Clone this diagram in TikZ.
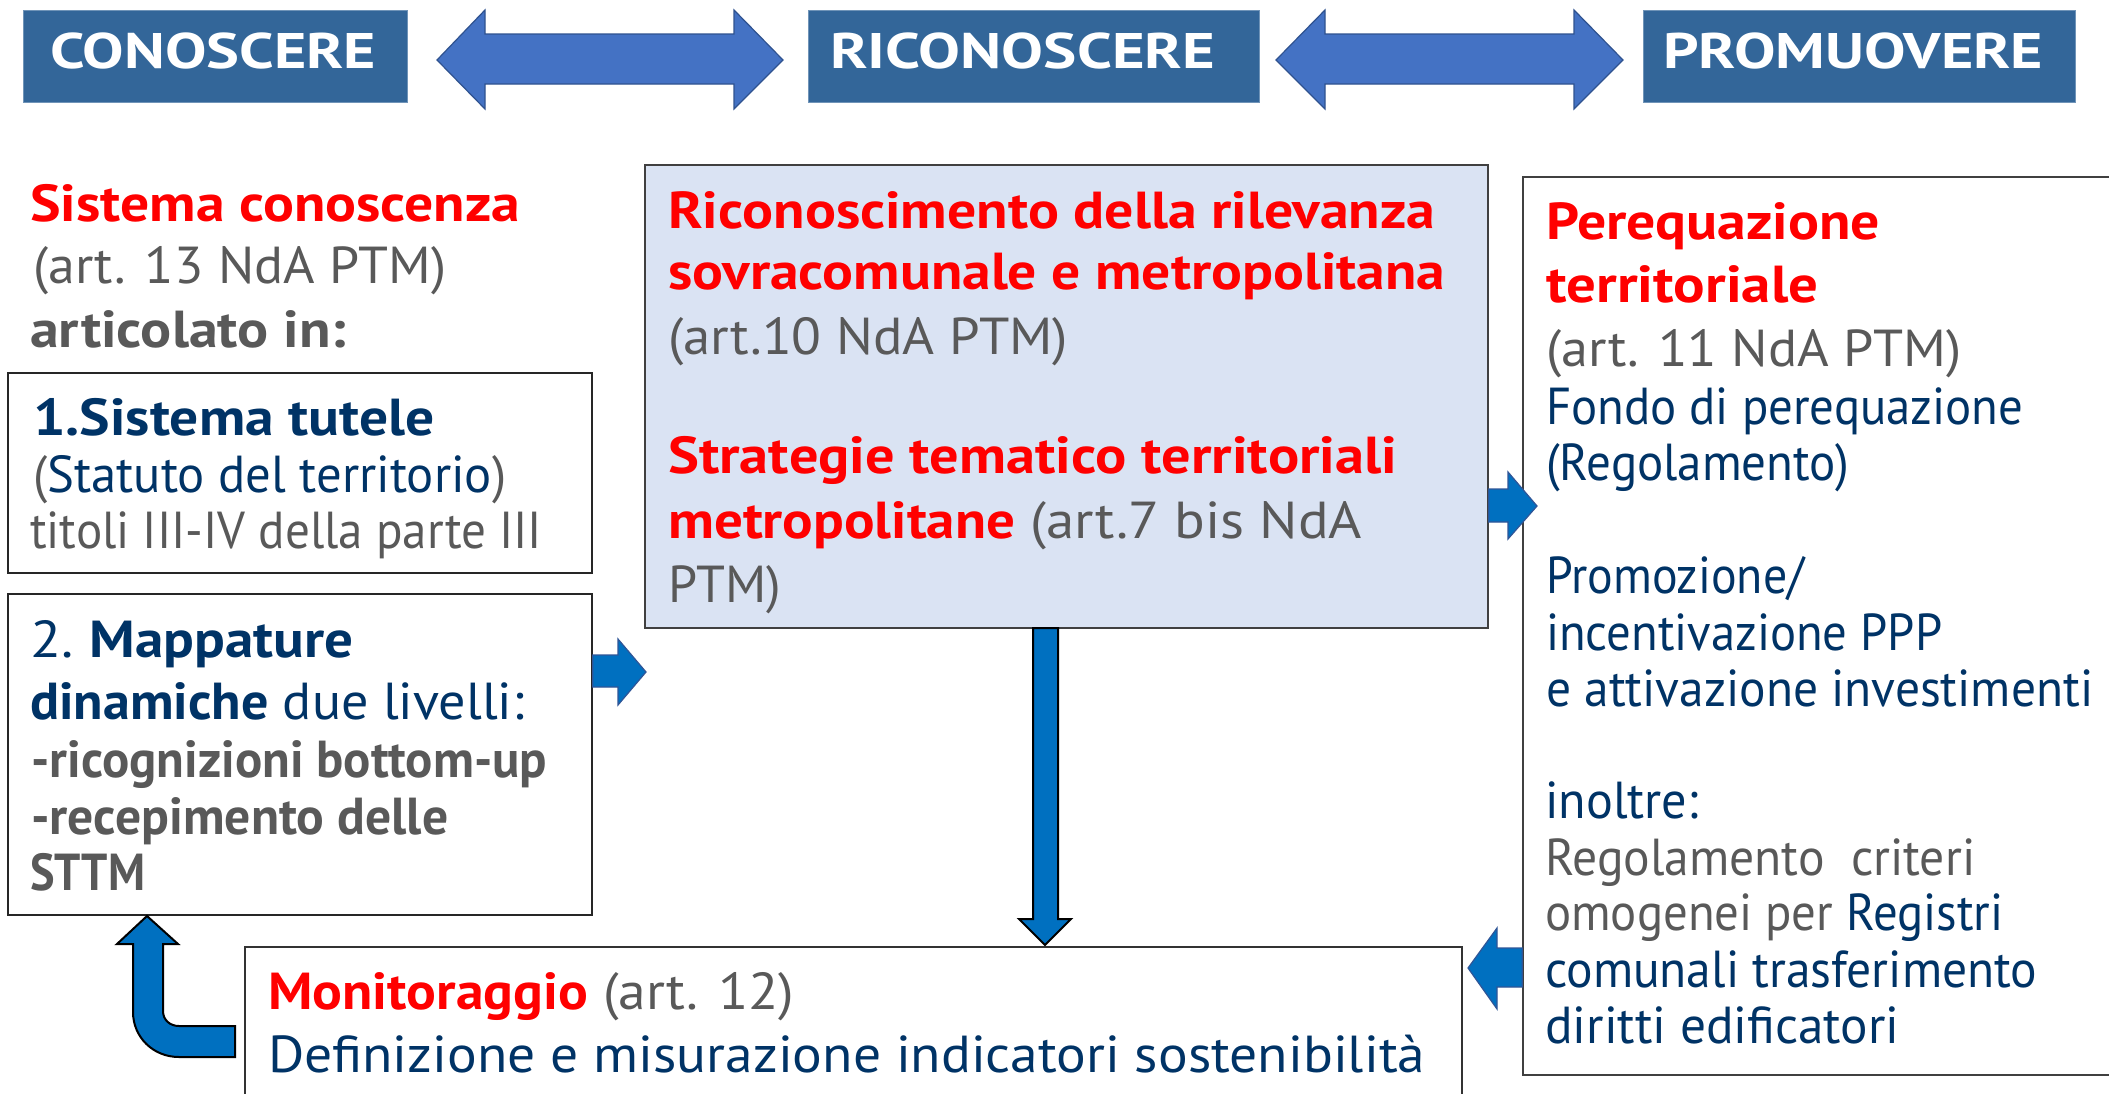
\documentclass[tikz,border=0pt]{standalone}
\usepackage{fontspec}
\setmainfont{PT Sans}
\usetikzlibrary{fit}
\definecolor{hdr}{HTML}{336699}
\definecolor{dbl}{HTML}{4472C4}
\definecolor{dblo}{HTML}{2F528F}
\definecolor{arr}{HTML}{0070C0}
\definecolor{arro}{HTML}{2F5597}
\definecolor{rd}{HTML}{FF0000}
\definecolor{nv}{HTML}{003366}
\definecolor{gr}{HTML}{595959}
\definecolor{lb}{HTML}{DAE3F3}
\newcommand{\fitw}[2]{\resizebox{#1pt}{\height}{#2}}
\tikzset{
  txt/.style={anchor=base west, inner sep=0pt, font=\fontsize{52}{62}\selectfont},
  htxt/.style={anchor=base west, inner sep=0pt, text=white, font=\fontsize{50}{60}\selectfont\bfseries},
  box/.style={draw=black!85, line width=1.5pt, inner sep=0pt},
  hdrbox/.style={fill=hdr, draw=hdr!70!white, line width=1pt, inner sep=0pt},
  dblarrow/.style={fill=dbl, draw=dblo, line width=1.2pt, line join=miter},
  blkarrow/.style={fill=arr, draw=arro, line width=1.2pt, line join=miter},
  blkarrowk/.style={fill=arr, draw=black, line width=2pt, line join=miter},
}
\begin{document}
\begin{tikzpicture}[x=1pt,y=-1pt]
\useasboundingbox[fill=white] (0,0) rectangle (2109,1093);

% header boxes
\node[hdrbox, fit={(23,10)(407,102)}] (h1) {};
\node[hdrbox, fit={(808,10)(1259,102)}] (h2) {};
\node[hdrbox, fit={(1643,10)(2075,102)}] (h3) {};
\node[htxt] (h1t) at (50,68) {\fitw{326}{CONOSCERE}};
\node[htxt] (h2t) at (830,68) {\fitw{385}{RICONOSCERE}};
\node[htxt] (h3t) at (1663,68) {\fitw{380}{PROMUOVERE}};

% double arrows
\draw[dblarrow] (437,60) -- (485,10) -- (485,34) -- (734,34) -- (734,10) -- (783,60)
  -- (734,109) -- (734,84) -- (485,84) -- (485,109) -- cycle;
\draw[dblarrow] (1276,60) -- (1325,10) -- (1325,34) -- (1574,34) -- (1574,10) -- (1623,60)
  -- (1574,109) -- (1574,84) -- (1325,84) -- (1325,109) -- cycle;

% left column heading
\node[txt] (l1) at (30,221) {\fitw{490}{\textcolor{rd}{\bfseries Sistema conoscenza}}};
\node[txt] (l2) at (33,283) {\fitw{413}{\textcolor{gr}{(art. 13 NdA PTM)}}};
\node[txt] (l3) at (30,347) {\fitw{316}{\textcolor{gr}{\bfseries articolato in:}}};

% box 1
\node[box, fit={(8,373)(592,573)}] (b1) {};
\node[txt] (b1a) at (33,435) {\fitw{401}{\textcolor{nv}{\bfseries 1.Sistema tutele}}};
\node[txt] (b1b) at (33,492) {\fitw{473}{\textcolor{gr}{(}\textcolor{nv}{Statuto del territorio}\textcolor{gr}{)}}};
\node[txt] (b1c) at (30,548) {\fitw{512}{\textcolor{gr}{titoli III-IV della parte III}}};

% box 2
\node[box, fit={(8,594)(592,915)}] (b2) {};
\node[txt] (b2a) at (30,657) {\fitw{323}{\textcolor{nv}{2.\hspace{0.28em}\bfseries Mappature}}};
\node[txt] (b2b) at (30,719) {\fitw{494}{\textcolor{nv}{{\bfseries dinamiche} due livelli:}}};
\node[txt] (b2c) at (31,777) {\fitw{516}{\textcolor{gr}{\bfseries -ricognizioni bottom-up}}};
\node[txt] (b2d) at (31,834) {\fitw{417}{\textcolor{gr}{\bfseries -recepimento delle}}};
\node[txt] (b2e) at (30,890) {\fitw{115}{\textcolor{gr}{\bfseries STTM}}};

% centre box
\node[box, fill=lb, draw=black!75, fit={(645,165)(1488,628)}] (c) {};
\node[txt] (c1) at (668,228) {\fitw{767}{\textcolor{rd}{\bfseries Riconoscimento della rilevanza}}};
\node[txt] (c2) at (668,289) {\fitw{777}{\textcolor{rd}{\bfseries sovracomunale e metropolitana}}};
\node[txt] (c3) at (668,354) {\fitw{400}{\textcolor{gr}{(art.10 NdA PTM)}}};
\node[txt] (c4) at (668,473) {\fitw{729}{\textcolor{rd}{\bfseries Strategie tematico territoriali}}};
\node[txt] (c5) at (668,538) {\fitw{694}{\textcolor{rd}{\bfseries metropolitane} \textcolor{gr}{(art.7 bis NdA}}};
\node[txt] (c6) at (668,602) {\fitw{113}{\textcolor{gr}{PTM)}}};

% right box
\node[box, draw=black!75, fit={(1523,177)(2130,1075)}] (r) {};
\node[txt] (r1) at (1546,239) {\fitw{334}{\textcolor{rd}{\bfseries Perequazione}}};
\node[txt] (r2) at (1546,302) {\fitw{272}{\textcolor{rd}{\bfseries territoriale}}};
\node[txt] (r3) at (1546,366) {\fitw{415}{\textcolor{gr}{(art. 11 NdA PTM)}}};
\node[txt] (r4) at (1546,424) {\fitw{477}{\textcolor{nv}{Fondo di perequazione}}};
\node[txt] (r5) at (1546,480) {\fitw{303}{\textcolor{nv}{(Regolamento)}}};
\node[txt] (r6) at (1546,593) {\fitw{258}{\textcolor{nv}{Promozione/}}};
\node[txt] (r7) at (1546,650) {\fitw{396}{\textcolor{nv}{incentivazione PPP}}};
\node[txt] (r8) at (1546,706) {\fitw{547}{\textcolor{nv}{e attivazione investimenti}}};
\node[txt] (r9) at (1545,818) {\fitw{153}{\textcolor{nv}{inoltre:}}};
\node[txt] (r10) at (1545,875) {\fitw{430}{\textcolor{gr}{Regolamento~ criteri}}};
\node[txt] (r11) at (1545,930) {\fitw{458}{\textcolor{gr}{omogenei per} \textcolor{nv}{Registri}}};
\node[txt] (r12) at (1545,987) {\fitw{492}{\textcolor{nv}{comunali trasferimento}}};
\node[txt] (r13) at (1545,1043) {\fitw{354}{\textcolor{nv}{diritti edificatori}}};

% monitoraggio box
\node[box, draw=black!80, fit={(245,947)(1462,1110)}] (m) {};
\node[txt] (m1) at (268,1009) {\fitw{526}{\textcolor{rd}{\bfseries Monitoraggio} \textcolor{gr}{(art. 12)}}};
\node[txt] (m2) at (268,1072) {\fitw{1157}{\textcolor{nv}{Definizione e misurazione indicatori sostenibilità}}};

% block arrows
% box 2 -> centre
\draw[blkarrow] (b2.east |- 0,655) -- (618,655) -- (618,639) -- (646,672) -- (618,705) -- (618,687) -- (b2.east |- 0,687) -- cycle;
% centre -> right
\draw[blkarrow] (c.east |- 0,489) -- (1508,489) -- (1508,472) -- (1537,506) -- (1508,539) -- (1508,522) -- (c.east |- 0,522) -- cycle;
% right -> monitoraggio
\draw[blkarrow] (r.west |- 0,948) -- (1497,948) -- (1497,928) -- (1468,968) -- (1497,1009) -- (1497,987) -- (r.west |- 0,987) -- cycle;
% centre -> monitoraggio (down)
\draw[blkarrowk] (1033,628) -- (1033,919) -- (1019,919) -- (1045,945) -- (1071,919) -- (1058,919) -- (1058,628) -- cycle;
% monitoraggio -> box 2 (bent up)
\draw[blkarrowk] (147,916) -- (178,944) -- (163,944) -- (163,1011)
  .. controls (163,1020) and (170,1026) .. (179,1026) -- (235,1026) -- (235,1057) -- (179,1057)
  .. controls (153,1057) and (133,1037) .. (133,1012) -- (133,944) -- (117,944) -- cycle;
\end{tikzpicture}
\end{document}
